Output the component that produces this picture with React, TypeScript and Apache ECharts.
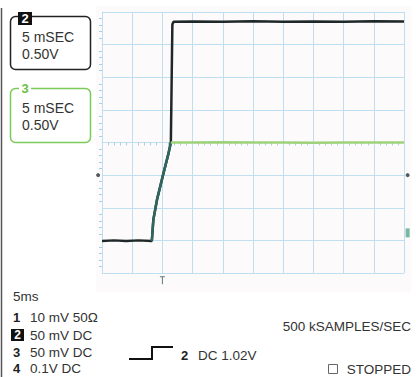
import React, { useEffect, useRef } from "react";
import * as echarts from "echarts";

// Time in divisions (5 ms/div), amplitude in divisions
const ch2Time = [0, 0.4, 0.8, 1.2, 1.65, 1.7, 1.82, 2.02, 2.19, 2.28, 2.33, 2.37, 3, 4, 5, 6, 7, 8, 9, 10];
const ch2Volts = [-3.02, -3.0, -3.02, -3.0, -3.02, -2.37, -1.76, -1.0, -0.38, 0.0, 3.62, 3.7, 3.71, 3.7, 3.72, 3.7, 3.71, 3.7, 3.72, 3.71];

const ch3Time = [1.65, 1.7, 1.82, 2.02, 2.19, 2.28, 3, 4, 5, 6, 7, 8, 9, 10];
const ch3Volts = [-3.02, -2.37, -1.76, -1.0, -0.38, 0.0, 0.0, 0.01, 0.0, 0.0, -0.01, 0.0, 0.0, 0.0];
const ch3RampEnd = 6;

const groundMarkers = [
  [-0.13, -1],
  [10.12, -1],
];
const triggerMarker = [[2, -4.22]];
const ch3Marker = [[10.12, -2.77]];

const channelRows = [
  { num: "1", text: "10 mV 50Ω" },
  { num: "2", text: "50 mV DC" },
  { num: "3", text: "50 mV DC" },
  { num: "4", text: "0.1V DC" },
];

const FONT = "'Liberation Sans', Arial, sans-serif";
const GRID_COLOR = "#bfdff0";

export default function App() {
  const ref = useRef<HTMLDivElement>(null);

  useEffect(() => {
    if (!ref.current) return;
    const chart = echarts.init(ref.current, undefined, { renderer: "svg" });

    const ch2 = ch2Time.map((t, i) => [t, ch2Volts[i]]);
    const ch3 = ch3Time.map((t, i) => [t, ch3Volts[i]]);

    const rowYs = [317, 335, 352, 368];
    const rowGraphics: any[] = [];
    channelRows.forEach((r, i) => {
      const y = rowYs[i];
      if (r.num === "2") {
        rowGraphics.push({
          type: "rect",
          shape: { x: 11, y: y - 6, width: 13, height: 12 },
          style: { fill: "#111" },
        });
        rowGraphics.push({
          type: "text",
          style: { text: r.num, x: 17.5, y, fill: "#fff", fontSize: 12, fontWeight: "bold", fontFamily: FONT, align: "center", verticalAlign: "middle" },
        });
      } else {
        rowGraphics.push({
          type: "text",
          style: { text: r.num, x: 13, y, fill: "#222", fontSize: 13, fontWeight: "bold", fontFamily: FONT, align: "left", verticalAlign: "middle" },
        });
      }
      rowGraphics.push({
        type: "text",
        style: { text: r.text, x: 30, y, fill: "#333", fontSize: 13.5, fontFamily: FONT, align: "left", verticalAlign: "middle" },
      });
    });

    chart.setOption({
      animation: false,
      backgroundColor: "#ffffff",
      grid: { left: 102, top: 12, width: 302, height: 261, show: false },
      xAxis: {
        type: "value",
        min: 0,
        max: 10,
        interval: 1,
        axisLine: { show: true, onZero: true, lineStyle: { color: GRID_COLOR, width: 1 } },
        axisTick: { show: false },
        minorTick: { show: true, splitNumber: 5, length: 3, lineStyle: { color: "#a9cfe2" } },
        axisLabel: { show: false },
        splitLine: { show: true, lineStyle: { color: GRID_COLOR, width: 1 } },
      },
      yAxis: {
        type: "value",
        min: -4,
        max: 4,
        interval: 1,
        axisLine: { show: true, onZero: true, lineStyle: { color: GRID_COLOR, width: 1 } },
        axisTick: { show: false },
        minorTick: { show: true, splitNumber: 5, length: 3, lineStyle: { color: "#a9cfe2" } },
        axisLabel: { show: false },
        splitLine: { show: true, lineStyle: { color: GRID_COLOR, width: 1 } },
      },
      graphic: [
        { type: "rect", z: -10, shape: { x: 96, y: 6, width: 315, height: 286 }, style: { fill: "#fcfafa" } },
        { type: "line", shape: { x1: 1.5, y1: 8, x2: 1.5, y2: 377 }, style: { stroke: "#555", lineWidth: 1.5 } },
        // channel 2 box
        { type: "rect", shape: { x: 10.5, y: 16.5, width: 80, height: 53, r: 5 }, style: { fill: "#fff", stroke: "#222", lineWidth: 1.5 } },
        { type: "rect", shape: { x: 18, y: 12, width: 14, height: 13 }, style: { fill: "#111" } },
        { type: "text", style: { text: "2", x: 25, y: 18.5, fill: "#fff", fontSize: 13, fontWeight: "bold", fontFamily: FONT, align: "center", verticalAlign: "middle" } },
        { type: "text", style: { text: "5 mSEC", x: 22, y: 37, fill: "#333", fontSize: 14, fontFamily: FONT, align: "left", verticalAlign: "middle" } },
        { type: "text", style: { text: "0.50V", x: 22, y: 54, fill: "#333", fontSize: 14, fontFamily: FONT, align: "left", verticalAlign: "middle" } },
        // channel 3 box
        { type: "rect", shape: { x: 10.5, y: 88.5, width: 80, height: 54, r: 5 }, style: { fill: "#fff", stroke: "#7cc95a", lineWidth: 1.5 } },
        { type: "rect", shape: { x: 19, y: 83, width: 12, height: 10 }, style: { fill: "#fff" } },
        { type: "text", style: { text: "3", x: 25, y: 88, fill: "#6cbf48", fontSize: 13, fontWeight: "bold", fontFamily: FONT, align: "center", verticalAlign: "middle" } },
        { type: "text", style: { text: "5 mSEC", x: 22, y: 108, fill: "#333", fontSize: 14, fontFamily: FONT, align: "left", verticalAlign: "middle" } },
        { type: "text", style: { text: "0.50V", x: 22, y: 125, fill: "#333", fontSize: 14, fontFamily: FONT, align: "left", verticalAlign: "middle" } },
        // bottom info
        { type: "text", style: { text: "5ms", x: 13, y: 296, fill: "#333", fontSize: 13.5, fontFamily: FONT, align: "left", verticalAlign: "middle" } },
        ...rowGraphics,
        { type: "polyline", shape: { points: [[129, 359], [152, 359], [152, 347], [173, 347]] }, style: { stroke: "#111", lineWidth: 2, fill: "none" } },
        { type: "text", style: { text: "2", x: 181, y: 355, fill: "#222", fontSize: 13, fontWeight: "bold", fontFamily: FONT, align: "left", verticalAlign: "middle" } },
        { type: "text", style: { text: "DC 1.02V", x: 198, y: 355, fill: "#333", fontSize: 13.5, fontFamily: FONT, align: "left", verticalAlign: "middle" } },
        { type: "text", style: { text: "500 kSAMPLES/SEC", x: 411, y: 326, fill: "#333", fontSize: 13.5, fontFamily: FONT, align: "right", verticalAlign: "middle" } },
        { type: "rect", shape: { x: 328.5, y: 364.5, width: 9, height: 9 }, style: { fill: "#fff", stroke: "#666", lineWidth: 1 } },
        { type: "text", style: { text: "STOPPED", x: 411, y: 369, fill: "#333", fontSize: 13.5, fontFamily: FONT, align: "right", verticalAlign: "middle" } },
      ],
      series: [
        {
          name: "ch2",
          type: "line",
          data: ch2,
          showSymbol: false,
          symbol: "none",
          lineStyle: { color: "#1f2828", width: 2.5 },
          z: 3,
        },
        {
          name: "ch3 ramp",
          type: "line",
          data: ch3.slice(0, ch3RampEnd),
          symbol: "none",
          lineStyle: { color: "#2f665e", width: 2.5 },
          z: 4,
        },
        {
          name: "ch3",
          type: "line",
          data: ch3.slice(ch3RampEnd - 1),
          symbol: "none",
          lineStyle: { color: "#9dd27a", width: 2.5 },
          z: 4,
        },
        {
          name: "ground",
          type: "scatter",
          data: groundMarkers,
          symbol: "circle",
          symbolSize: 4,
          clip: false,
          itemStyle: { color: "#2a3333" },
        },
        {
          name: "trigger",
          type: "scatter",
          data: triggerMarker,
          symbol: "path://M0,0 L10,0 L10,2 L6,2 L6,14 L4,14 L4,2 L0,2 Z",
          symbolSize: [5, 8],
          clip: false,
          itemStyle: { color: "#3a5a5a" },
        },
        {
          name: "ch3 marker",
          type: "scatter",
          data: ch3Marker,
          symbol: "rect",
          symbolSize: [4, 9],
          clip: false,
          itemStyle: { color: "#5aa88a" },
        },
      ],
    });

    return () => chart.dispose();
  }, []);

  return (
    <div
      ref={ref}
      style={{ position: "absolute", left: 0, top: 0, width: 416, height: 377 }}
    />
  );
}
